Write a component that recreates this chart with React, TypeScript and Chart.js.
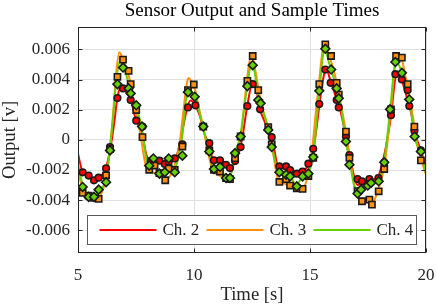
import React, { useEffect, useRef } from "react";
import { Chart, registerables } from "chart.js";
Chart.register(...registerables);

// ---- data (time in s, output in mV) ----
const ch2LineT = [5.0, 5.15, 5.4, 5.7, 5.9, 6.2, 6.4, 6.55, 6.7, 6.85, 7.0, 7.15, 7.3, 7.5, 7.75, 7.95, 8.15, 8.5, 8.8, 9.2, 9.4, 9.55, 9.72, 9.85, 10.05, 10.25, 10.45, 10.65, 10.85, 11.1, 11.4, 11.6, 11.8, 12.0, 12.15, 12.3, 12.5, 12.65, 12.85, 13.05, 13.35, 13.65, 13.95, 14.2, 14.45, 14.7, 14.95, 15.15, 15.3, 15.42, 15.6, 15.7, 15.9, 16.15, 16.3, 16.55, 16.7, 16.9, 17.05, 17.25, 17.5, 17.75, 17.95, 18.2, 18.35, 18.5, 18.65, 18.75, 18.95, 19.1, 19.3, 19.55, 19.78, 20.0];
const ch2LineV = [-0.9, -1.9, -2.3, -2.7, -2.5, -1.9, -0.5, 1.0, 2.8, 3.5, 3.3, 3.0, 2.5, 1.3, 0.5, -1.0, -1.5, -1.4, -1.5, -1.2, -0.2, 1.0, 2.2, 2.6, 2.3, 1.6, 0.4, -0.3, -1.4, -1.4, -1.7, -1.9, -1.3, -0.5, 0.8, 2.3, 3.6, 3.5, 2.0, 1.2, 0.2, -1.8, -1.8, -1.9, -2.3, -2.1, -1.6, -0.6, 1.0, 2.5, 4.3, 4.7, 3.8, 2.7, 2.0, 0.2, -1.0, -2.4, -3.0, -2.8, -2.7, -2.6, -2.4, -1.0, 0.2, 1.7, 3.8, 4.4, 4.0, 3.2, 2.2, 0.3, -0.7, -1.9];

const ch3LineT = [5.0, 5.2, 5.5, 5.8, 6.0, 6.2, 6.35, 6.5, 6.65, 6.78, 6.9, 7.05, 7.2, 7.35, 7.5, 7.7, 7.85, 8.0, 8.3, 8.6, 8.8, 9.0, 9.2, 9.4, 9.55, 9.7, 9.78, 9.9, 10.05, 10.2, 10.4, 10.6, 10.8, 11.0, 11.3, 11.5, 11.7, 11.9, 12.05, 12.2, 12.35, 12.48, 12.62, 12.8, 13.0, 13.2, 13.4, 13.6, 13.9, 14.2, 14.5, 14.7, 14.9, 15.1, 15.25, 15.4, 15.55, 15.65, 15.8, 15.95, 16.15, 16.35, 16.55, 16.75, 16.95, 17.2, 17.45, 17.65, 17.85, 18.0, 18.2, 18.35, 18.5, 18.65, 18.75, 18.95, 19.1, 19.25, 19.45, 19.65, 19.85, 20.0];
const ch3LineV = [-2.0, -3.3, -3.8, -3.95, -3.6, -2.6, -1.0, 1.5, 4.5, 5.8, 5.5, 4.9, 4.2, 2.8, 1.8, 0.3, -1.2, -2.0, -2.2, -2.5, -2.7, -2.3, -1.5, 0.0, 2.0, 3.8, 4.1, 3.8, 3.3, 2.2, 0.8, -0.8, -2.0, -2.3, -2.5, -2.6, -1.6, -0.4, 0.6, 2.8, 4.8, 5.6, 4.8, 3.2, 1.8, 0.8, -0.8, -2.5, -2.9, -3.1, -3.25, -3.2, -2.4, -0.5, 1.8, 4.0, 6.0, 6.3, 5.7, 5.0, 3.8, 2.2, 0.5, -1.5, -3.2, -4.0, -4.0, -4.3, -3.7, -3.0, -1.8, 0.0, 2.2, 4.8, 5.6, 5.4, 4.3, 3.2, 1.4, -0.5, -1.6, -2.3];

const ch4LineT = [5.0, 5.2, 5.45, 5.7, 5.9, 6.2, 6.35, 6.5, 6.65, 6.8, 6.95, 7.1, 7.25, 7.5, 7.75, 7.95, 8.1, 8.3, 8.5, 8.75, 8.9, 9.15, 9.35, 9.5, 9.65, 9.78, 9.9, 10.05, 10.2, 10.4, 10.65, 10.85, 11.1, 11.4, 11.55, 11.75, 12.0, 12.15, 12.3, 12.45, 12.6, 12.77, 12.9, 13.2, 13.35, 13.65, 13.95, 14.15, 14.4, 14.65, 14.9, 15.15, 15.3, 15.42, 15.55, 15.65, 15.8, 15.92, 16.15, 16.3, 16.55, 16.75, 17.0, 17.2, 17.5, 17.7, 17.95, 18.2, 18.35, 18.48, 18.6, 18.7, 18.85, 18.98, 19.15, 19.3, 19.5, 19.7, 19.85, 20.0];
const ch4LineV = [-1.6, -3.0, -3.7, -3.8, -3.3, -2.7, -0.9, 1.3, 3.9, 5.2, 4.9, 4.2, 3.2, 2.2, 0.8, -1.3, -1.8, -1.5, -2.2, -2.2, -1.4, -2.0, -1.0, 0.3, 2.6, 3.4, 3.2, 2.8, 2.0, 0.8, -0.8, -1.9, -1.9, -2.5, -2.5, -1.0, 0.3, 2.0, 3.6, 4.9, 4.6, 2.8, 2.3, 0.7, -0.4, -2.1, -2.3, -2.4, -3.0, -2.5, -2.2, -1.0, 1.5, 3.4, 5.5, 6.0, 5.2, 4.6, 3.4, 2.5, -0.1, -1.8, -3.5, -3.3, -3.0, -2.9, -2.7, -1.4, 0.5, 2.4, 4.3, 5.2, 4.9, 4.4, 3.6, 2.6, 0.3, -0.7, -1.3, -2.2];

const ch2SampleT = [5.2, 5.46, 5.69, 5.89, 6.21, 6.38, 6.7, 6.94, 7.27, 7.51, 7.78, 8.14, 8.51, 8.74, 8.91, 9.17, 9.5, 9.74, 10.06, 10.4, 10.66, 10.86, 11.12, 11.38, 11.55, 11.77, 12.01, 12.3, 12.53, 12.85, 13.35, 13.68, 13.97, 14.14, 14.43, 14.68, 14.93, 15.14, 15.4, 15.66, 15.89, 16.15, 16.24, 16.55, 16.7, 17.05, 17.24, 17.56, 17.95, 18.2, 18.49, 18.68, 18.96, 19.21, 19.28, 19.5, 19.78];
const ch2SampleV = [-2.15, -2.37, -2.68, -2.51, -1.89, -0.48, 2.77, 3.41, 2.64, 1.27, 0.88, -1.4, -1.38, -1.6, -1.45, -1.23, -0.3, 2.15, 2.29, 0.9, -0.22, -1.36, -1.36, -1.65, -1.87, -1.4, -0.48, 2.24, 3.69, 2.02, 0.18, -1.76, -1.76, -2.0, -2.24, -2.1, -1.58, -0.59, 2.37, 4.66, 3.78, 2.64, 2.15, 0.22, -1.01, -2.6, -2.75, -2.6, -2.53, -1.5, 1.63, 4.35, 4.0, 3.3, 2.24, 0.6, -0.7];

const ch3SampleT = [5.2, 5.46, 5.69, 5.89, 6.21, 6.38, 6.7, 6.94, 7.18, 7.27, 7.51, 7.78, 8.07, 8.3, 8.51, 8.76, 8.91, 9.17, 9.5, 9.74, 9.99, 10.4, 10.66, 10.86, 11.12, 11.38, 11.55, 11.77, 12.01, 12.3, 12.53, 12.77, 13.2, 13.35, 13.68, 13.97, 14.14, 14.43, 14.68, 14.93, 15.14, 15.4, 15.66, 15.91, 16.15, 16.24, 16.55, 16.7, 17.05, 17.24, 17.56, 17.67, 17.96, 18.2, 18.49, 18.71, 18.96, 19.21, 19.5, 19.78];
const ch3SampleV = [-3.52, -3.7, -3.85, -3.91, -2.35, -0.6, 4.18, 5.32, 4.57, 3.69, 1.98, 0.18, -1.98, -1.7, -2.2, -2.68, -1.9, -2.0, -0.44, 3.3, 3.67, 0.88, -0.7, -1.98, -2.1, -2.53, -2.6, -1.21, 0.22, 3.91, 5.56, 3.3, 0.84, -0.3, -2.79, -2.6, -3.03, -3.21, -3.25, -2.4, -1.2, 3.69, 6.33, 5.56, 3.78, 3.0, 0.55, -1.2, -3.4, -4.07, -3.96, -4.29, -3.41, -1.93, 2.02, 5.56, 5.45, 3.69, 0.88, -1.36];

const ch4SampleT = [5.2, 5.46, 5.69, 5.89, 6.21, 6.38, 6.7, 6.94, 7.18, 7.27, 7.51, 7.76, 8.07, 8.25, 8.51, 8.74, 8.91, 9.17, 9.5, 9.74, 10.03, 10.4, 10.66, 10.86, 11.12, 11.38, 11.55, 11.77, 12.01, 12.3, 12.53, 12.77, 12.87, 13.2, 13.35, 13.68, 13.97, 14.14, 14.43, 14.68, 14.93, 15.14, 15.4, 15.66, 15.91, 16.15, 16.24, 16.55, 16.7, 17.05, 17.2, 17.49, 17.63, 17.96, 18.2, 18.45, 18.68, 18.96, 19.28, 19.51, 19.78];
const ch4SampleV = [-3.12, -3.78, -3.78, -3.3, -2.81, -0.7, 3.69, 4.79, 3.41, 3.08, 2.29, 0.88, -1.71, -1.23, -2.24, -2.15, -1.23, -2.15, -1.05, 3.16, 2.86, 0.88, -0.77, -1.93, -1.8, -2.53, -2.53, -0.88, 0.22, 3.56, 4.95, 2.64, 2.42, 0.66, -0.48, -2.15, -2.31, -2.42, -3.08, -2.42, -2.24, -1.14, 3.25, 6.04, 4.66, 3.41, 2.75, -0.11, -1.65, -3.56, -3.3, -3.03, -2.86, -2.75, -1.49, 2.02, 5.16, 4.44, 2.68, 0.22, -0.77];

const yTickValues = [-0.006, -0.004, -0.002, 0, 0.002, 0.004, 0.006];
const xTickValues = [5, 10, 15, 20];
const seriesNames = ["Ch. 2", "Ch. 3", "Ch. 4"];
const seriesColors = ["#ff0000", "#ff9010", "#66d000"];
const chartTitle = "Sensor Output and Sample Times";

const FONT = "'Liberation Serif', 'Times New Roman', serif";
const TEXT = "#262626";

const toPts = (t: number[], v: number[]) => t.map((x, i) => ({ x, y: v[i] * 0.001 }));

const framePlugin = {
  id: "frameAndLegend",
  afterDraw(chart: any) {
    const { ctx, chartArea: a } = chart;
    const L = Math.round(a.left) + 0.5;
    const R = Math.round(a.right) - 0.5;
    const T = Math.round(a.top) + 0.5;
    const B = Math.round(a.bottom) - 0.5;
    ctx.save();
    // title, centred over the plot area
    ctx.fillStyle = "#000000";
    ctx.font = `19px ${FONT}`;
    ctx.textAlign = "center";
    ctx.textBaseline = "middle";
    ctx.fillText(chartTitle, (a.left + a.right) / 2, 11);

    ctx.strokeStyle = TEXT;
    ctx.lineWidth = 1;
    ctx.strokeRect(L, T, R - L, B - T);
    // inner tick marks
    const ys = chart.scales.y;
    const xs = chart.scales.x;
    ctx.beginPath();
    yTickValues.forEach((v) => {
      const py = Math.round(ys.getPixelForValue(v)) + 0.5;
      ctx.moveTo(L, py); ctx.lineTo(L + 4, py);
      ctx.moveTo(R, py); ctx.lineTo(R - 4, py);
    });
    xTickValues.forEach((v) => {
      const px = Math.round(xs.getPixelForValue(v)) + 0.5;
      ctx.moveTo(px, B); ctx.lineTo(px, B - 4);
      ctx.moveTo(px, T); ctx.lineTo(px, T + 4);
    });
    ctx.stroke();

    // legend box
    const lx = Math.round(a.left) + 9.5;
    const rx = Math.round(a.right) - 9.5;
    const ty = Math.round(a.bottom) - 37.5;
    const by = Math.round(a.bottom) - 8.5;
    ctx.fillStyle = "#ffffff";
    ctx.fillRect(lx, ty, rx - lx, by - ty);
    ctx.strokeStyle = "#5a5a5a";
    ctx.strokeRect(lx, ty, rx - lx, by - ty);
    const cy = (ty + by) / 2;
    ctx.font = `17px ${FONT}`;
    ctx.textBaseline = "middle";
    ctx.textAlign = "left";
    seriesNames.forEach((name, i) => {
      const x0 = lx + 12 + i * 107;
      ctx.strokeStyle = seriesColors[i];
      ctx.lineWidth = 2;
      ctx.beginPath();
      ctx.moveTo(x0, cy);
      ctx.lineTo(x0 + 57, cy);
      ctx.stroke();
      ctx.fillStyle = TEXT;
      ctx.fillText(name, x0 + 63, cy + 1);
    });
    ctx.restore();
  },
};

export default function App() {
  const ref = useRef<HTMLCanvasElement>(null);
  useEffect(() => {
    if (!ref.current) return;
    const lineDs = (i: number, t: number[], v: number[], order: number) => ({
      label: seriesNames[i],
      data: toPts(t, v),
      borderColor: seriesColors[i],
      backgroundColor: seriesColors[i],
      borderWidth: 2,
      pointRadius: 0,
      cubicInterpolationMode: "monotone" as const,
      order,
    });
    const markDs = (i: number, t: number[], v: number[], style: string, r: number, order: number) => ({
      label: seriesNames[i] + " samples",
      data: toPts(t, v),
      showLine: false,
      pointStyle: style,
      pointRadius: r,
      pointBorderWidth: 1.6,
      pointBorderColor: "#1a1a1a",
      pointBackgroundColor: seriesColors[i],
      borderColor: "#1a1a1a",
      backgroundColor: seriesColors[i],
      order,
    });
    const chart = new Chart(ref.current, {
      type: "line",
      data: {
        datasets: [
          markDs(2, ch4SampleT, ch4SampleV, "rectRot", 4.4, 0),
          markDs(1, ch3SampleT, ch3SampleV, "rect", 4.4, 1),
          markDs(0, ch2SampleT, ch2SampleV, "circle", 3.3, 2),
          lineDs(2, ch4LineT, ch4LineV, 3),
          lineDs(1, ch3LineT, ch3LineV, 4),
          lineDs(0, ch2LineT, ch2LineV, 5),
        ] as any,
      },
      options: {
        animation: false,
        responsive: false,
        layout: { padding: { left: 0, right: 10, top: 26.7, bottom: 0 } },
        plugins: {
          legend: { display: false },
          tooltip: { enabled: false },
          title: { display: false },
        },
        scales: {
          x: {
            type: "linear",
            min: 5,
            max: 20,
            afterBuildTicks: (s: any) => { s.ticks = xTickValues.map((value) => ({ value })); },
            afterFit: (s: any) => { s.height = 55; s.paddingLeft = 0; s.paddingRight = 0; },
            ticks: {
              color: TEXT,
              padding: 12,
              font: { family: FONT, size: 17 },
              maxRotation: 0,
              callback: (v: any) => String(v),
            },
            grid: { color: "#e0e0e0", drawTicks: false, lineWidth: 1 },
            border: { display: false },
            title: {
              display: true,
              text: "Time [s]",
              color: TEXT,
              font: { family: FONT, size: 18.7, lineHeight: 1.2 },
              padding: { top: 0, bottom: 1.8 },
            },
          },
          y: {
            type: "linear",
            min: -0.0075,
            max: 0.0075,
            afterBuildTicks: (s: any) => { s.ticks = yTickValues.map((value) => ({ value })); },
            afterFit: (s: any) => { s.width = 78; s.paddingTop = 0; s.paddingBottom = 0; },
            ticks: {
              color: TEXT,
              padding: 8,
              font: { family: FONT, size: 17 },
              callback: (v: any) => (Math.abs(v) < 1e-12 ? "0" : Number(v).toFixed(3)),
            },
            grid: { color: "#e0e0e0", drawTicks: false, lineWidth: 1 },
            border: { display: false },
            title: {
              display: true,
              text: "Output [v]",
              color: TEXT,
              font: { family: FONT, size: 18.7, lineHeight: 1.05 },
              padding: { top: 0, bottom: 0 },
            },
          },
        },
      },
      plugins: [framePlugin],
    });
    return () => chart.destroy();
  }, []);
  return (
    <div style={{ position: "fixed", left: 0, top: 0, width: 436, height: 308, background: "#fff" }}>
      <canvas ref={ref} width={436} height={308} style={{ display: "block", width: 436, height: 308 }} />
    </div>
  );
}
